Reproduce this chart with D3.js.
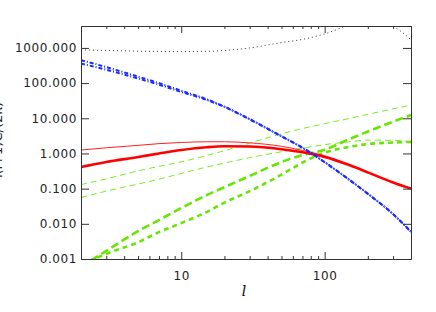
<!DOCTYPE html>
<html>
<head>
<meta charset="utf-8">
<script src="https://cdn.jsdelivr.net/npm/d3@7"></script>
<style>
  body { margin: 0; background: #fff; }
  svg { display: block; }
  .axis text { font-family: "DejaVu Sans", sans-serif; font-size: 12px; letter-spacing: 0.6px; fill: #222; }
  .axis path, .axis line { stroke: #333; }
</style>
</head>
<body>
<div id="chart"></div>
<script>
const ells = [2, 3, 5, 7, 10, 15, 20, 30, 50, 70, 100, 150, 200, 300, 400];

const blackDotted = [880, 850, 810, 795, 790, 800, 850, 1000, 1420, 1750, 2500, 4500, 5600, 4000, 1700];
const blueA = [450, 285, 153, 100, 61, 35, 21.5, 9.5, 3.1, 1.47, 0.57, 0.175, 0.072, 0.019, 0.006];
const blueB = [360, 240, 135, 90, 56, 33.5, 21, 9.3, 3.05, 1.45, 0.56, 0.172, 0.071, 0.0187, 0.0059];
const redThin = [1.25, 1.45, 1.7, 1.9, 2.05, 2.15, 2.15, 2.0, 1.6, 1.22, 0.86, 0.46, 0.28, 0.15, 0.1];
const redThick = [0.41, 0.57, 0.79, 1.0, 1.25, 1.5, 1.6, 1.58, 1.32, 1.08, 0.8, 0.46, 0.29, 0.15, 0.1];
const greenThinUp = [0.13, 0.19, 0.32, 0.43, 0.58, 0.87, 1.2, 1.98, 3.6, 5.1, 7.0, 10, 13, 18.5, 23.5];
const greenThinLow = [0.056, 0.085, 0.135, 0.186, 0.27, 0.41, 0.53, 0.76, 1.12, 1.42, 1.78, 2.15, 2.4, 2.35, 2.15];
const greenThickA = [0.0006, 0.0017, 0.0062, 0.0128, 0.028, 0.065, 0.11, 0.23, 0.57, 0.9, 1.28, 2.6, 4.2, 8.0, 12.3];
const greenThickB = [0.00068, 0.0014, 0.003, 0.0058, 0.0105, 0.0216, 0.04, 0.085, 0.25, 0.55, 1.05, 1.55, 1.85, 2.05, 2.13];

const yTicks = [0.001, 0.01, 0.1, 1, 10, 100, 1000];
const xMajor = [10, 100];
const xMinor = [3, 4, 5, 6, 7, 8, 9, 20, 30, 40, 50, 60, 70, 80, 90, 200, 300, 400];

const width = 436, height = 312;
const margin = { top: 26, right: 25, bottom: 53, left: 81 };

const svg = d3.select("#chart").append("svg")
    .attr("width", width)
    .attr("height", height);

const x = d3.scaleLog()
    .domain([2, 400])
    .range([margin.left, width - margin.right]);

const y = d3.scaleLog()
    .domain([0.001, 4200])
    .range([height - margin.bottom, margin.top]);

svg.append("defs").append("clipPath")
    .attr("id", "plot-clip")
    .append("rect")
    .attr("x", margin.left)
    .attr("y", margin.top)
    .attr("width", x.range()[1] - margin.left)
    .attr("height", y.range()[0] - margin.top);

// series styles
const series = [
    { values: blackDotted, color: "#333", width: 1, dash: "1,3" },
    { values: greenThinUp, color: "#77ee22", width: 1, dash: "6,4" },
    { values: greenThinLow, color: "#77ee22", width: 1, dash: "6,4" },
    { values: greenThickA, color: "#66e600", width: 2.6, dash: "8,4" },
    { values: greenThickB, color: "#66e600", width: 2.6, dash: "5,4" },
    { values: redThin, color: "#ff2020", width: 1, dash: null },
    { values: redThick, color: "#ff0000", width: 2.6, dash: null },
    { values: blueA, color: "#1a2cff", width: 2, dash: "4,2,1,2" },
    { values: blueB, color: "#1a2cff", width: 2, dash: "4,2,1,2" }
];

const line = d3.line()
    .x(d => x(d[0]))
    .y(d => y(d[1]))
    .curve(d3.curveMonotoneX);

const plot = svg.append("g").attr("clip-path", "url(#plot-clip)");

series.forEach(s => {
    plot.append("path")
        .datum(ells.map((l, i) => [l, s.values[i]]))
        .attr("fill", "none")
        .attr("stroke", s.color)
        .attr("stroke-width", s.width)
        .attr("stroke-dasharray", s.dash)
        .attr("d", line);
});

// axes, ticks point inward
const bottom = height - margin.bottom, right = width - margin.right;

svg.append("g").attr("class", "axis")
    .attr("transform", `translate(0,${bottom})`)
    .call(d3.axisBottom(x).tickValues(xMajor).tickSize(-7).tickSizeOuter(0).tickPadding(12).tickFormat(d3.format("d")));
svg.append("g").attr("class", "axis")
    .attr("transform", `translate(0,${bottom})`)
    .call(d3.axisBottom(x).tickValues(xMinor).tickSize(-3).tickSizeOuter(0).tickFormat(""));
svg.append("g").attr("class", "axis")
    .attr("transform", `translate(0,${margin.top})`)
    .call(d3.axisTop(x).tickValues(xMajor).tickSize(-7).tickSizeOuter(0).tickFormat(""));
svg.append("g").attr("class", "axis")
    .attr("transform", `translate(0,${margin.top})`)
    .call(d3.axisTop(x).tickValues(xMinor).tickSize(-3).tickSizeOuter(0).tickFormat(""));

svg.append("g").attr("class", "axis")
    .attr("transform", `translate(${margin.left},0)`)
    .call(d3.axisLeft(y).tickValues(yTicks).tickSize(-8).tickSizeOuter(0).tickPadding(4).tickFormat(d3.format(".3f")));
svg.append("g").attr("class", "axis")
    .attr("transform", `translate(${right},0)`)
    .call(d3.axisRight(y).tickValues(yTicks).tickSize(-8).tickSizeOuter(0).tickFormat(""));

// axis titles
svg.append("text")
    .attr("x", 244)
    .attr("y", 296)
    .attr("text-anchor", "middle")
    .style("font-family", "DejaVu Serif, serif")
    .style("font-style", "italic")
    .style("font-size", "14px")
    .text("l");

// y title sits mostly off the left edge, as in the reference
svg.append("text")
    .attr("transform", "translate(2,140) rotate(-90)")
    .attr("text-anchor", "middle")
    .style("font-family", "DejaVu Sans, sans-serif")
    .style("font-size", "13px")
    .style("fill", "#222")
    .text("l(l+1)C/(2π)");
</script>
